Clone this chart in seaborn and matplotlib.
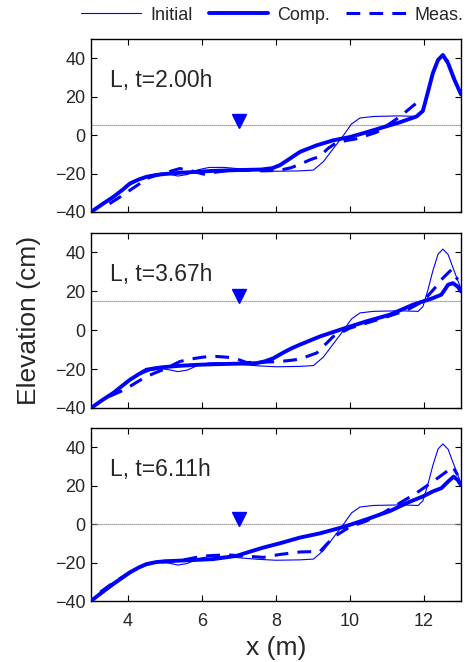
import numpy as np
import pandas as pd
import matplotlib
matplotlib.use("Agg")
import matplotlib.pyplot as plt
import seaborn as sns

# ---------------- data ----------------
init_x = [3.0, 3.3, 3.6, 4.0, 4.3, 4.6, 4.9, 5.1, 5.35, 5.6, 5.9, 6.2, 6.6, 7.0, 7.5, 8.0, 8.65, 9.01, 9.28, 9.55,
          9.82, 10.04, 10.27, 10.63, 11.35, 11.84, 11.97, 12.1, 12.24, 12.38, 12.51, 12.65, 12.78, 13.0]
init_y = [-40, -36, -32, -26.5, -23, -20.8, -19.8, -20.3, -21.3, -20.5, -18, -16.8, -16.8, -17.5, -18.3, -18.8, -18.6,
          -18.2, -13.8, -7, -0.2, 5.8, 8.9, 9.7, 10, 9.7, 12.1, 20.3, 30.6, 39.1, 41.7, 39, 32.3, 21.2]

panel_labels = ["L, t=2.00h", "L, t=3.67h", "L, t=6.11h"]
still_water = [5.0, 15.0, 0.0]
gauge_x = 7.0

comp1_x = [3.0, 3.3, 3.6, 3.85, 4.05, 4.3, 4.5, 4.75, 4.95, 5.4, 5.86, 6.3, 6.76, 7.2, 7.6, 7.9, 8.1, 8.3, 8.65,
           9.1, 9.55, 10.0, 10.45, 10.9, 11.35, 11.8, 11.97, 12.1, 12.24, 12.38, 12.51, 12.65, 12.82, 13.0]
comp1_y = [-40, -36, -32.2, -28.5, -25.2, -23, -21.7, -20.8, -20.3, -19.6, -19.1, -18.6, -18.3, -18.1, -17.9, -17.2,
           -15.7, -13.2, -8.7, -5.3, -2.7, -1, 1.5, 4.1, 6.7, 9.7, 12.6, 22, 32.3, 39.1, 41.7, 37.4, 28.9, 21.2]
comp2_x = [3.0, 3.3, 3.6, 3.85, 4.05, 4.3, 4.5, 4.75, 4.95, 5.4, 5.86, 6.3, 6.76, 7.2, 7.48, 7.7, 7.93, 8.2, 8.4,
           8.65, 9.19, 9.82, 10.45, 11.08, 11.7, 11.97, 12.24, 12.47, 12.65, 12.78, 12.91, 13.0]
comp2_y = [-40, -36, -32.3, -28.5, -25.5, -22.5, -20.3, -19.5, -19, -18.3, -17.8, -17.5, -17.3, -17.1, -16.9, -16,
           -14.4, -11.5, -9.5, -7.4, -3.2, 0.8, 4.6, 8, 13.1, 14.8, 16.5, 18.3, 23.4, 24.2, 22.5, 20]
comp3_x = [3.0, 3.3, 3.6, 3.85, 4.05, 4.3, 4.5, 4.75, 5.0, 5.4, 5.86, 6.3, 6.94, 7.3, 7.66, 8.1, 8.65, 9.19, 9.82,
           10.45, 11.08, 11.61, 11.97, 12.24, 12.47, 12.65, 12.8, 12.91, 13.0]
comp3_y = [-40, -35.5, -31.1, -27.8, -25.1, -22.5, -20.8, -19.8, -19.3, -19, -18.6, -18.2, -16.5, -14.3, -12.2, -10,
           -7, -4.8, -1.5, 2.5, 6.8, 11.6, 14.4, 17, 18.7, 22.1, 24.7, 23, 20.4]

meas1_x = [3.5, 3.8, 4.05, 4.3, 4.5, 4.75, 4.95, 5.2, 5.4, 5.7, 6.04, 6.4, 6.76, 7.2, 7.66, 8.1, 8.4, 8.65, 8.9,
           9.19, 9.4, 9.64, 9.9, 10.18, 10.45, 10.72, 11.0, 11.26, 11.5, 11.7, 11.93]
meas1_y = [-35.7, -32, -28.7, -25.5, -22.6, -21, -20, -18.5, -17.4, -18.5, -20.3, -19.2, -18.3, -18.3, -18.6, -18.3,
           -17, -15.2, -13, -11, -7, -3.9, -2.8, -1.9, -0.2, 1.5, 5, 8.4, 12, 15.2, 18.6]
meas2_x = [3.5, 3.8, 4.05, 4.3, 4.5, 4.75, 4.95, 5.2, 5.4, 5.7, 6.04, 6.4, 6.76, 7.0, 7.2, 7.6, 8.1, 8.4, 8.65, 9.1,
           9.55, 10.0, 10.9, 11.52, 11.97, 12.33, 12.51, 12.74, 12.91]
meas2_y = [-34, -31.5, -28.9, -26, -23.8, -21.8, -20.3, -18, -16.1, -14.8, -13.8, -13.5, -14, -15.2, -16.6, -16.5,
           -16.1, -15.5, -14.8, -11.7, -3.2, 1.1, 6.3, 10.2, 14.8, 22.5, 26.8, 31.1, 26]
meas3_x = [3.25, 3.6, 4.05, 4.3, 4.5, 4.9, 5.4, 5.8, 6.13, 6.4, 6.76, 7.2, 7.66, 8.1, 8.65, 9.19, 9.55, 10.0, 10.45,
           10.9, 11.35, 11.79, 12.24, 12.6, 12.78, 12.91]
meas3_y = [-35.4, -30.5, -25.1, -22.5, -20.8, -19.8, -19, -17.5, -16.5, -16.2, -16.1, -16.7, -17.3, -15.8, -14.5,
           -14.2, -6.8, -1.4, 1.7, 5.9, 11, 16.1, 22.1, 27.2, 29.8, 25.5]

comp_x = [comp1_x, comp2_x, comp3_x]
comp_y = [comp1_y, comp2_y, comp3_y]
meas_x = [meas1_x, meas2_x, meas3_x]
meas_y = [meas1_y, meas2_y, meas3_y]

x_ticks = [4, 6, 8, 10, 12]
y_ticks = [-40, -20, 0, 20, 40]

# ---------------- style ----------------
sns.set_style("ticks")
plt.rcParams["font.family"] = ["Liberation Sans", "DejaVu Sans"]
plt.rcParams["axes.unicode_minus"] = True

BLUE = "#0000ff"
TXT = "#262626"

fig = plt.figure(figsize=(4.66, 6.62), dpi=100)
W, H = 466.0, 662.0
left, right = 91, 461
panel_px = [(39, 212), (233, 408), (428, 601)]

axes = []
handles, labels = None, None
for i, (top, bot) in enumerate(panel_px):
    ax = fig.add_axes([left / W, 1 - bot / H, (right - left) / W, (bot - top) / H])
    axes.append(ax)

    df_i = pd.DataFrame({"x": init_x, "y": init_y})
    df_c = pd.DataFrame({"x": comp_x[i], "y": comp_y[i]})
    df_m = pd.DataFrame({"x": meas_x[i], "y": meas_y[i]})

    ax.axhline(still_water[i], color="#8a7f8f", lw=0.9, ls=(0, (1, 0.6)), zorder=1)
    sns.lineplot(data=df_i, x="x", y="y", ax=ax, color=BLUE, lw=0.8, sort=False, estimator=None,
                 label="Initial", zorder=3)
    sns.lineplot(data=df_c, x="x", y="y", ax=ax, color=BLUE, lw=2.8, sort=False, estimator=None,
                 label="Comp.", zorder=4)
    sns.lineplot(data=df_m, x="x", y="y", ax=ax, color=BLUE, lw=2.2, sort=False, estimator=None,
                 label="Meas.", zorder=4, linestyle=(0, (4.5, 3)))
    ax.plot([gauge_x], [still_water[i] + 2.6], marker="v", ms=10, color=BLUE, ls="none", zorder=5)

    ax.text(0.051, 0.763, panel_labels[i], transform=ax.transAxes, fontsize=16.5, color=TXT,
            va="center", ha="left")

    ax.set_xlim(3, 13)
    ax.set_ylim(-40, 50)
    ax.set_xticks(x_ticks)
    ax.set_yticks(y_ticks)
    ax.tick_params(direction="in", top=True, right=True, length=4, width=0.8, labelsize=13,
                   colors="black", labelcolor=TXT)
    ax.tick_params(axis="y", pad=4)
    ax.tick_params(axis="x", pad=9)
    for s in ax.spines.values():
        s.set_linewidth(1.0)
        s.set_color("black")
        s.set_visible(True)
    ax.set_xlabel("")
    ax.set_ylabel("")
    if i < 2:
        ax.set_xticklabels([])
    handles, labels = ax.get_legend_handles_labels()
    ax.get_legend().remove()

axes[2].set_xlabel("x (m)", fontsize=19, color=TXT, labelpad=4)
fig.text(29 / W, 1 - 320 / H, "Elevation (cm)", rotation=90, fontsize=19, color=TXT,
         ha="center", va="center")

fig.legend(handles, labels, loc="center right", bbox_to_anchor=(0.995, 1 - 15 / H), ncol=3,
           frameon=False, fontsize=13, handlelength=3.3, handletextpad=0.5, columnspacing=0.9,
           labelcolor=TXT, borderaxespad=0, borderpad=0)

fig.savefig("out.png", dpi=100)
